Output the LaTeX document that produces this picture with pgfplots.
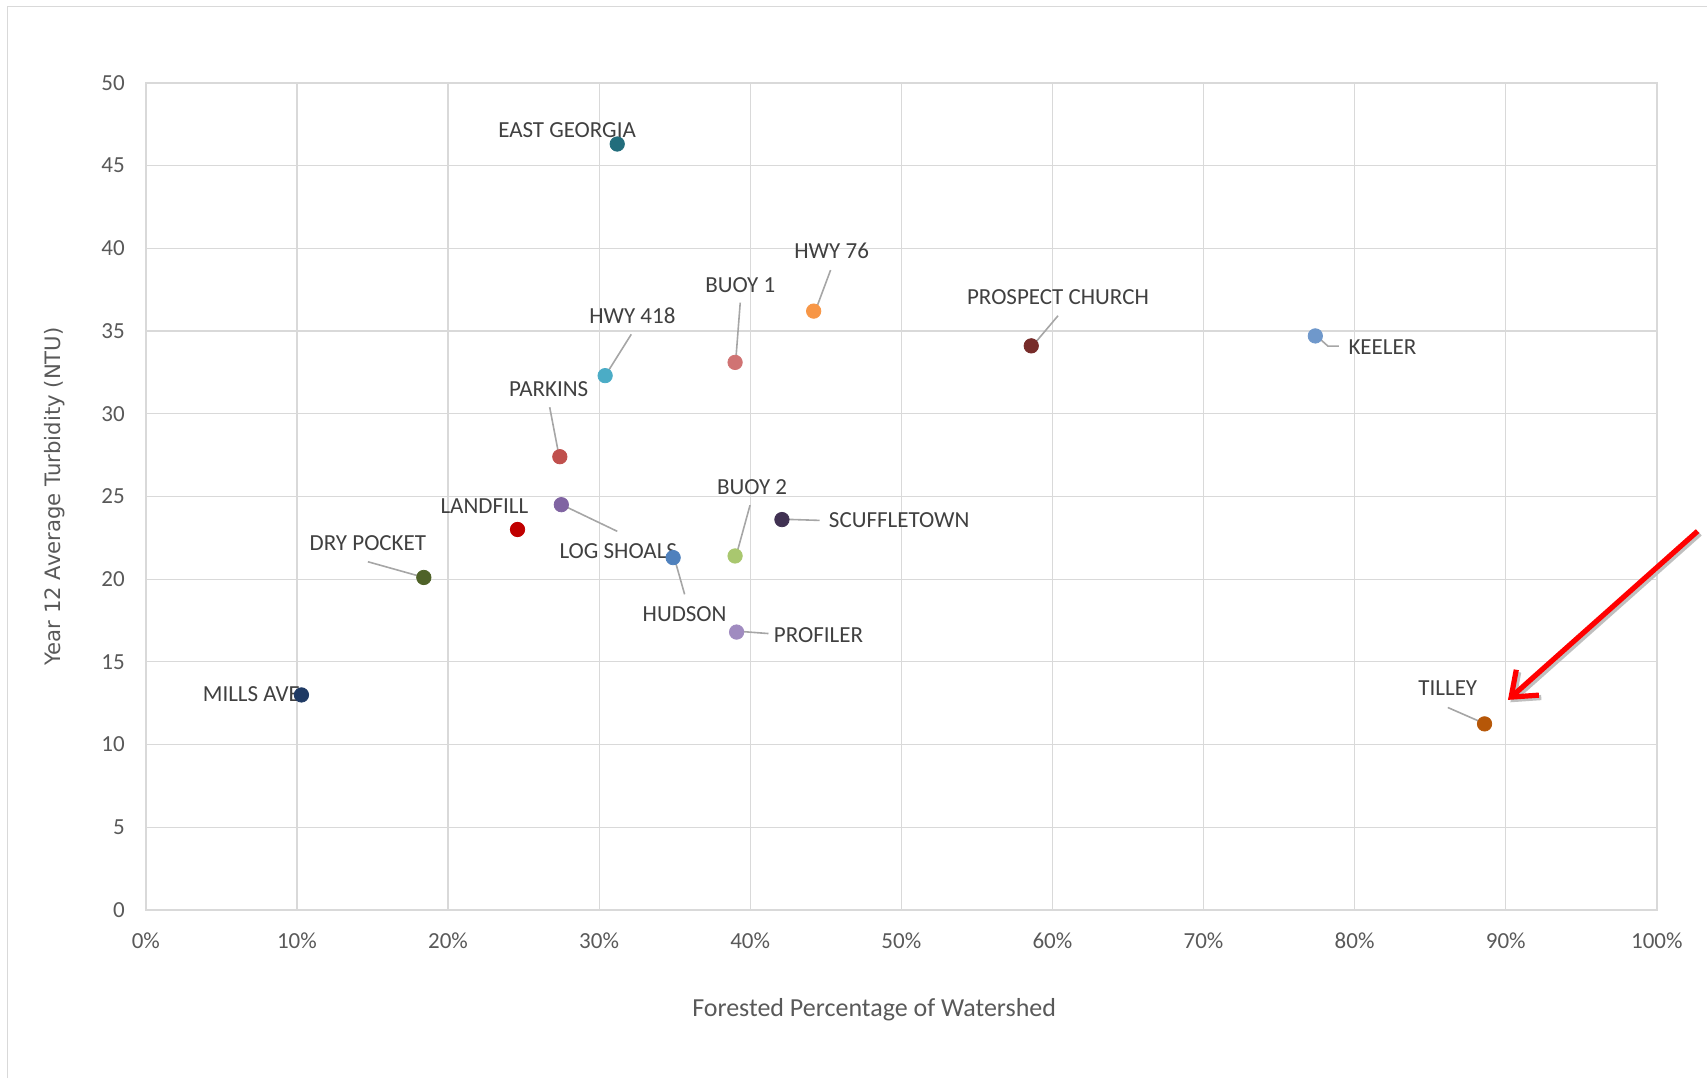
\documentclass[border=0pt]{standalone}
\usepackage{fontspec}
\setmainfont{Carlito}
\newfontfamily\dejavu{DejaVu Sans}
\usepackage{pgfplots}
\pgfplotsset{compat=1.18}
\usetikzlibrary{arrows.meta}
\definecolor{gridc}{HTML}{D9D9D9}
\definecolor{tickc}{HTML}{595959}
\definecolor{labc}{HTML}{404040}
\definecolor{leadc}{HTML}{A6A6A6}
\definecolor{cEG}{HTML}{226D7C}
\definecolor{cH76}{HTML}{F79646}
\definecolor{cB1}{HTML}{D07373}
\definecolor{cH418}{HTML}{4BACC6}
\definecolor{cPC}{HTML}{772C2A}
\definecolor{cKE}{HTML}{6F98CB}
\definecolor{cPA}{HTML}{C0504D}
\definecolor{cLS}{HTML}{8064A2}
\definecolor{cLF}{HTML}{C00000}
\definecolor{cSC}{HTML}{403152}
\definecolor{cB2}{HTML}{A9C76F}
\definecolor{cHU}{HTML}{4F81BD}
\definecolor{cDP}{HTML}{4F6228}
\definecolor{cPR}{HTML}{A08BC0}
\definecolor{cMA}{HTML}{1F3A64}
\definecolor{cTI}{HTML}{B65708}
\begin{document}
\begin{tikzpicture}
\useasboundingbox (-72.9pt,-84pt) rectangle (780.6pt,455pt);
\draw[gridc, line width=0.8pt] (-69.05pt,-84pt) -- (-69.05pt,451.75pt) -- (780.6pt,451.75pt);
\begin{axis}[
  at={(0pt,0pt)}, anchor=south west,
  width=755.5pt, height=413.6pt, scale only axis,
  xmin=0, xmax=100, ymin=0, ymax=50,
  xtick={0,10,...,100}, ytick={0,5,...,50},
  xticklabel={\pgfmathprintnumber{\tick}\%},
  /pgf/number format/assume math mode=true,
  tick label style={font=\fontsize{11.5}{13}\selectfont, color=tickc},
  xticklabel style={yshift=-8pt},
  yticklabel style={xshift=-7pt},
  major tick length=0pt,
  grid=major, major grid style={draw=gridc, line width=0.6pt},
  axis line style={draw=gridc, line width=0.8pt},
  xlabel={Forested Percentage of Watershed},
  ylabel={{\dejavu Year 12 Average Turbidity (NTU)}},
  xlabel style={font=\fontsize{13}{15}\selectfont, color=tickc, at={(axis description cs:0.482,-0.12)}, anchor=center},
  ylabel style={font=\fontsize{10.6}{12}\selectfont, color=tickc, at={(axis description cs:-0.0605,0.5)}, anchor=center},
  clip=false,
  every axis plot/.append style={only marks, mark=*, mark size=3.6pt},
]
\addplot[cEG, mark options={fill=cEG}] coordinates {(31.2,46.3)};
\addplot[cH76, mark options={fill=cH76}] coordinates {(44.2,36.2)};
\addplot[cB1, mark options={fill=cB1}] coordinates {(39.0,33.1)};
\addplot[cH418, mark options={fill=cH418}] coordinates {(30.4,32.3)};
\addplot[cPC, mark options={fill=cPC}] coordinates {(58.6,34.1)};
\addplot[cKE, mark options={fill=cKE}] coordinates {(77.4,34.7)};
\addplot[cPA, mark options={fill=cPA}] coordinates {(27.4,27.4)};
\addplot[cLS, mark options={fill=cLS}] coordinates {(27.5,24.5)};
\addplot[cLF, mark options={fill=cLF}] coordinates {(24.6,23.0)};
\addplot[cSC, mark options={fill=cSC}] coordinates {(42.1,23.6)};
\addplot[cB2, mark options={fill=cB2}] coordinates {(39.0,21.4)};
\addplot[cHU, mark options={fill=cHU}] coordinates {(34.9,21.3)};
\addplot[cDP, mark options={fill=cDP}] coordinates {(18.4,20.1)};
\addplot[cPR, mark options={fill=cPR}] coordinates {(39.1,16.8)};
\addplot[cMA, mark options={fill=cMA}] coordinates {(10.3,13.0)};
\addplot[cTI, mark options={fill=cTI}] coordinates {(88.6,11.25)};
% leader lines
\begin{scope}[leadc, line width=0.8pt]
\draw (axis cs:45.32,38.68) -- (axis cs:44.38,36.38);
\draw (axis cs:39.34,36.71) -- (axis cs:39.05,33.29);
\draw (axis cs:32.13,34.80) -- (axis cs:30.55,32.50);
\draw (axis cs:60.37,35.92) -- (axis cs:58.79,34.21);
\draw (axis cs:78.96,34.08) -- (axis cs:78.24,34.08) -- (axis cs:77.59,34.61);
\draw (axis cs:26.73,30.39) -- (axis cs:27.31,27.63);
\draw (axis cs:31.20,22.89) -- (axis cs:27.59,24.47);
\draw (axis cs:44.60,23.55) -- (axis cs:42.22,23.62);
\draw (axis cs:39.99,24.47) -- (axis cs:39.12,21.58);
\draw (axis cs:35.66,19.08) -- (axis cs:35.01,21.18);
\draw (axis cs:14.70,21.05) -- (axis cs:18.30,20.13);
\draw (axis cs:41.21,16.71) -- (axis cs:39.34,16.84);
\draw (axis cs:86.17,12.24) -- (axis cs:88.47,11.32);
\end{scope}
% labels
\begin{scope}[every node/.style={font=\fontsize{11.5}{13}\selectfont, text=labc, inner sep=0pt, anchor=center}]
\node at (axis cs:27.88,47.17) {EAST GEORGIA};
\node at (axis cs:45.39,39.87) {HWY 76};
\node at (axis cs:39.34,37.76) {BUOY 1};
\node at (axis cs:32.20,35.92) {HWY 418};
\node at (axis cs:60.37,37.04) {PROSPECT CHURCH};
\node at (axis cs:81.84,34.01) {KEELER};
\node at (axis cs:26.66,31.51) {PARKINS};
\node at (axis cs:31.27,21.71) {LOG SHOALS};
\node at (axis cs:22.41,24.41) {LANDFILL};
\node at (axis cs:49.86,23.55) {SCUFFLETOWN};
\node at (axis cs:40.13,25.59) {BUOY 2};
\node at (axis cs:35.66,17.89) {HUDSON};
\node at (axis cs:14.70,22.17) {DRY POCKET};
\node at (axis cs:44.52,16.64) {PROFILER};
\node at (axis cs:6.99,13.03) {MILLS AVE};
\node at (axis cs:86.17,13.42) {TILLEY};
\end{scope}
% red arrow
\draw[black!25, line width=2.6pt, -{Straight Barb[length=11pt,width=17pt,line width=2.6pt]}, transform canvas={xshift=1.2pt,yshift=-1.2pt}] (axis cs:102.7,22.9) -- (axis cs:90.15,12.7);
\draw[red, line width=2.6pt, -{Straight Barb[length=11pt,width=17pt,line width=2.6pt]}] (axis cs:102.7,22.9) -- (axis cs:90.15,12.7);
\end{axis}
\end{tikzpicture}
\end{document}
